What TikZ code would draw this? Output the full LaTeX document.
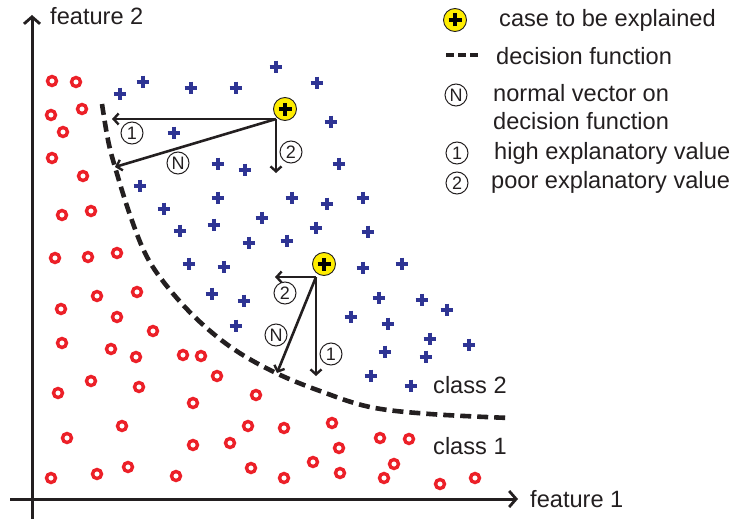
\documentclass[tikz,border=0pt]{standalone}
\usepackage{fontspec}
\setmainfont{Liberation Sans}
\usetikzlibrary{arrows.meta}
\definecolor{ored}{RGB}{236,32,40}
\definecolor{pblue}{RGB}{46,52,148}
\definecolor{ink}{RGB}{35,31,32}
\definecolor{casey}{RGB}{255,237,0}
\begin{document}
\begin{tikzpicture}[x=1pt,y=-1pt,
  lbl/.style={font=\fontsize{23.6}{28}\selectfont, text=ink, anchor=base west, inner sep=0pt},
  circnum/.style={circle, draw=ink, line width=1pt, minimum size=22pt, inner sep=0pt, font=\fontsize{18}{18}\selectfont, text=ink},
  vec/.style={draw=ink, line width=2.6pt, -{Straight Barb[length=5pt,width=11pt,line width=2.4pt]}},
  axisline/.style={draw=ink, line width=3pt, -{Straight Barb[length=7pt,width=16pt,line width=2.8pt]}},
  casecirc/.style={circle, fill=casey, draw=ink, line width=0.9pt, minimum size=23pt, inner sep=0pt},
  caseplus/.style={draw=black, line width=4.2pt},
  omark/.style={draw=ored, line width=3.4pt},
  pmark/.style={draw=pblue, line width=3.3pt},
  decision/.style={draw=ink, line width=4.6pt, dash pattern=on 11pt off 6pt}
]
\useasboundingbox (0,0) rectangle (736,519);

% axes
\coordinate (ybot) at (32,519);
\coordinate (ytop) at (32,15);
\coordinate (xleft) at (10,499);
\coordinate (xright) at (518,499);
\draw[axisline] (ybot) -- (ytop);
\draw[axisline] (xleft) -- (xright);
\node[lbl] (f2) at (50,25) {feature 2};
\node[lbl] (f1) at (530,507) {feature 1};

% class 1 markers
\foreach \x/\y in {52/81,76/82,51/115,82/109,63/132,52/158,83/176,62/215,91/211,55/258,88/257,117/253,
  97/296,137/292,61/309,117/317,153/331,62/343,111/349,136/357,183/355,201/356,217/376,58/393,91/381,139/387,
  193/403,256/395,122/426,67/438,248/426,284/428,332/423,193/445,230/443,339/448,51/478,97/474,128/467,
  176/476,251/468,284/478,313/462,340/473,380/438,409/439,394/464,384/478,440/484,475/478}
  \draw[omark] (\x,\y) circle (4.5pt);

% class 2 markers
\foreach \x/\y in {120/94,143/82,191/88,236/88,276/67,317/83,331/122,174/133,218/164,245/170,339/164,
  140/186,218/198,292/198,327/204,363/198,164/209,262/218,214/225,180/231,316/228,368/232,249/243,287/241,
  189/264,224/267,363/268,402/264,212/294,244/301,379/298,422/300,447/310,236/326,351/317,388/324,430/339,
  469/345,385/352,426/357,371/376,411/386}
  \draw[pmark] (\x-6.3,\y) -- (\x+6.3,\y) (\x,\y-6.3) -- (\x,\y+6.3);

% decision function
\draw[decision] plot[smooth, tension=0.6] coordinates {(102,104) (108,140) (115,167) (130,215) (147,257)
  (170,290) (200,322) (235,350) (276,373) (320,391) (370,407) (430,414) (510,418)};
\node[lbl] (cl2) at (433,393) {class 2};
\node[lbl] (cl1) at (433,454) {class 1};

% case 1
\node[casecirc] (case1) at (285,109) {};
\draw[caseplus] ([xshift=-6.5pt]case1.center) -- ([xshift=6.5pt]case1.center)
                ([yshift=-6.5pt]case1.center) -- ([yshift=6.5pt]case1.center);
\coordinate (o1) at (276,119);
\coordinate (a1h) at (112,119);
\coordinate (a1n) at (115,167);
\coordinate (a1p) at (276,173);
\draw[vec] (o1) -- (a1h);
\draw[vec] (o1) -- (a1n);
\draw[vec] (o1) -- (a1p);
\node[circnum] (l1h) at (132,133) {1};
\node[circnum] (l1n) at (178,163) {N};
\node[circnum] (l1p) at (291,152) {2};

% case 2
\node[casecirc] (case2) at (324,264) {};
\draw[caseplus] ([xshift=-6.5pt]case2.center) -- ([xshift=6.5pt]case2.center)
                ([yshift=-6.5pt]case2.center) -- ([yshift=6.5pt]case2.center);
\coordinate (o2) at (316,277);
\coordinate (a2p) at (275,277);
\coordinate (a2h) at (316,376);
\coordinate (a2n) at (277,373);
\draw[vec] (o2) -- (a2p);
\draw[vec] (o2) -- (a2h);
\draw[vec] (o2) -- (a2n);
\node[circnum] (l2p) at (285,293) {2};
\node[circnum] (l2n) at (276,335) {N};
\node[circnum] (l2h) at (331,354) {1};

% legend
\node[casecirc] (lgcase) at (455,20) {};
\draw[caseplus] ([xshift=-6.5pt]lgcase.center) -- ([xshift=6.5pt]lgcase.center)
                ([yshift=-6.5pt]lgcase.center) -- ([yshift=6.5pt]lgcase.center);
\node[lbl] (lgt1) at (499,27) {case to be explained};
\coordinate (lgd1) at (446,55);
\coordinate (lgd2) at (478,55);
\draw[draw=ink, line width=4.4pt, dash pattern=on 8pt off 4pt] (lgd1) -- (lgd2);
\node[lbl] (lgt2) at (496,64) {decision function};
\node[circnum] (lgn) at (456,95) {N};
\node[lbl] (lgt3) at (493,101) {normal vector on};
\node[lbl] (lgt4) at (493,129) {decision function};
\node[circnum] (lg1) at (457,153) {1};
\node[lbl] (lgt5) at (494,159) {high explanatory value};
\node[circnum] (lg2) at (457,183) {2};
\node[lbl] (lgt6) at (491,188) {poor explanatory value};
\end{tikzpicture}
\end{document}
